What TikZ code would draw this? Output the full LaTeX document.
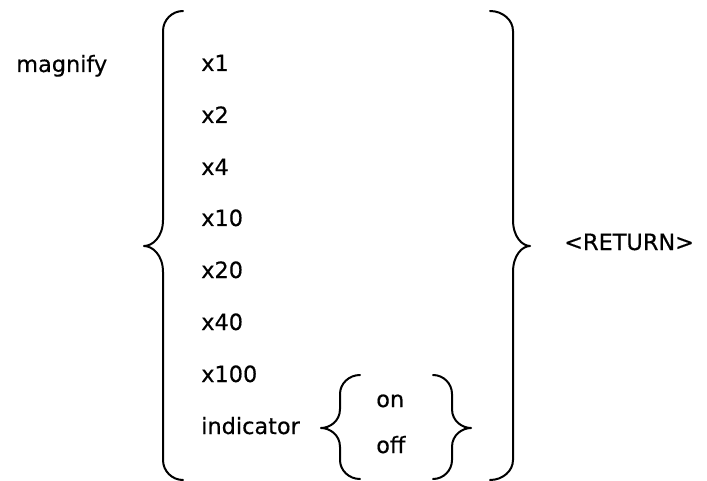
\documentclass[tikz,border=0pt]{standalone}
\usepackage{fontspec}
\setmainfont[FakeBold=0.4]{DejaVu Sans}
\newcommand\curlybrace[8]{% #1 end x, #2 spine x, #3 tip x, #4 top y, #5 tip y, #6 bottom y, #7 end bend, #8 tip bend
  \draw[brace] (#1,#4) .. controls ({#2+0.45*(#1-#2)},#4) and (#2,{#4+0.45*#7}) .. (#2,{#4+#7})
    -- (#2,{#5-#8}) .. controls (#2,{#5-0.35*#8}) and ({#3+0.45*(#2-#3)},#5) .. (#3,#5)
    .. controls ({#3+0.45*(#2-#3)},#5) and (#2,{#5+0.35*#8}) .. (#2,{#5+#8})
    -- (#2,{#6-#7}) .. controls (#2,{#6-0.45*#7}) and ({#2+0.45*(#1-#2)},#6) .. (#1,#6);}
\begin{document}
\begin{tikzpicture}[x=0.75pt,y=-0.75pt,
  lbl/.style={anchor=base west,inner sep=0pt,font=\fontsize{16.8}{20}\selectfont},
  brace/.style={line width=1.5pt,line cap=round,line join=round}]
\useasboundingbox (0,0) rectangle (707,481);
% command name
\node[lbl] (magnify) at (16,72) {magnify};
% outer braces
\curlybrace{183}{163}{144}{11}{246}{480}{20}{26}
\curlybrace{490}{513}{530}{11}{246}{480}{20}{26}
% options
\node[lbl] (x1)   at (201,71)  {x1};
\node[lbl] (x2)   at (201,123) {x2};
\node[lbl] (x4)   at (201,175) {x4};
\node[lbl] (x10)  at (201,226) {x10};
\node[lbl] (x20)  at (201,278) {x20};
\node[lbl] (x40)  at (201,330) {x40};
\node[lbl] (x100) at (201,382) {x100};
\node[lbl] (ind)  at (201,434) {indicator};
% indicator choices
\curlybrace{360}{340}{321}{375}{428}{479}{19}{19}
\curlybrace{433}{452}{471}{375}{428}{479}{19}{19}
\node[lbl] (on)  at (376,407) {on};
\node[lbl] (off) at (376,453) {off};
% terminator
\node[lbl] (ret) at (564,250) {<RETURN>};
\end{tikzpicture}
\end{document}
